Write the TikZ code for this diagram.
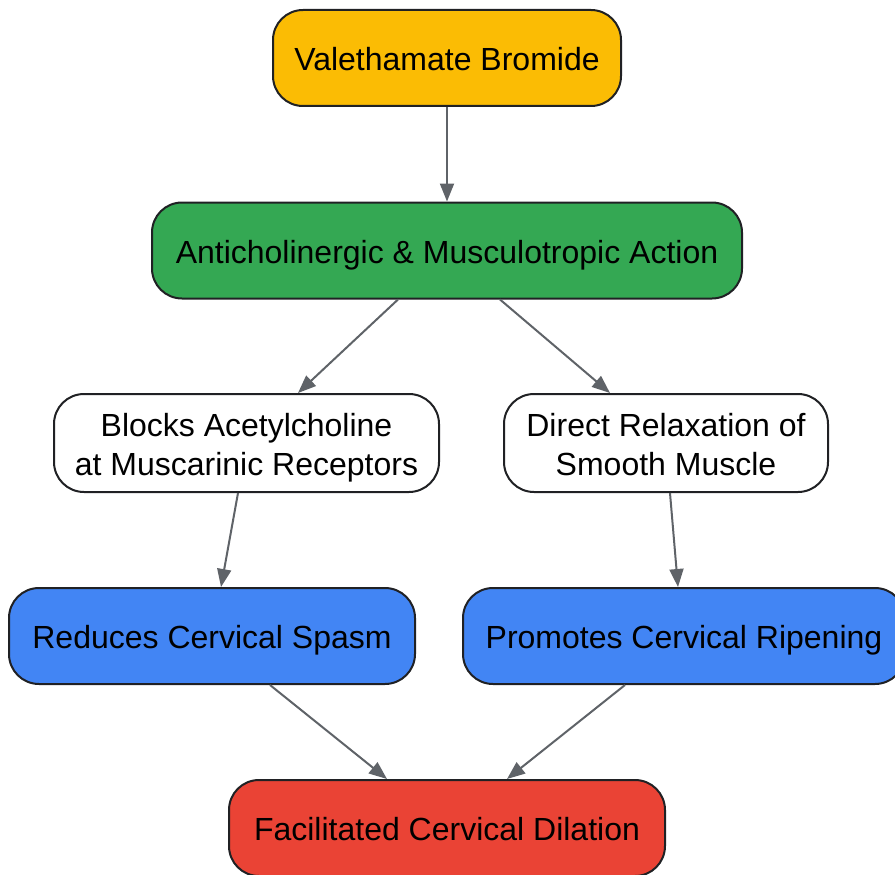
\documentclass[tikz,border=0pt]{standalone}
\usepackage{fontspec}
\setmainfont{Liberation Sans}
\usetikzlibrary{arrows.meta}
\definecolor{cyellow}{HTML}{FBBC04}
\definecolor{cgreen}{HTML}{34A853}
\definecolor{cblue}{HTML}{4285F4}
\definecolor{cred}{HTML}{EA4335}
\definecolor{cborder}{HTML}{202124}
\definecolor{carrow}{HTML}{5F6368}
\newcommand{\mystrut}{\rule[-7pt]{0pt}{39pt}}
\tikzset{
  box/.style={draw=cborder, line width=2pt, rounded corners=30pt, inner sep=0pt,
    align=center, font=\fontsize{32}{39}\selectfont, text=black},
  oneline/.style={box, execute at begin node=\mystrut, execute at end node=\mystrut},
  twoline/.style={box},
  conn/.style={draw=carrow, line width=2pt, -{Triangle[length=18pt,width=14pt]}},
}
\begin{document}
\begin{tikzpicture}[x=1pt,y=1pt]
\useasboundingbox (0,0) rectangle (895,-875);
\begin{scope}
\clip (0,0) rectangle (895,-875);
\node[oneline, fill=cyellow, minimum width=348pt, minimum height=96pt] (V) at (447,-58) {Valethamate Bromide};
\node[oneline, fill=cgreen, minimum width=590pt, minimum height=96pt] (A) at (447,-250.5) {Anticholinergic \& Musculotropic Action};
\node[twoline, fill=white, minimum width=385pt, minimum height=98pt] (B) at (246.5,-443) {\mystrut Blocks Acetylcholine\\at Muscarinic Receptors\mystrut};
\node[twoline, fill=white, minimum width=324pt, minimum height=98pt] (D) at (666,-443) {\mystrut Direct Relaxation of\\Smooth Muscle\mystrut};
\node[oneline, fill=cblue, minimum width=406pt, minimum height=96pt] (R) at (212,-636) {Reduces Cervical Spasm};
\node[oneline, fill=cblue, minimum width=442pt, minimum height=96pt] (P) at (684,-636) {Promotes Cervical Ripening};
\node[oneline, fill=cred, minimum width=436pt, minimum height=96pt] (F) at (447,-828) {Facilitated Cervical Dilation};
\end{scope}
\draw[conn] (V.south) -- (A.north);
\draw[conn] ([xshift=-49pt]A.south) -- ([xshift=51.5pt]B.north);
\draw[conn] ([xshift=53pt]A.south) -- ([xshift=-56pt]D.north);
\draw[conn] ([xshift=-8.5pt]B.south) -- ([xshift=9pt]R.north);
\draw[conn] ([xshift=4pt]D.south) -- ([xshift=-6pt]P.north);
\draw[conn] ([xshift=58pt]R.south) -- ([xshift=-60pt]F.north);
\draw[conn] ([xshift=-59pt]P.south) -- ([xshift=60pt]F.north);
\end{tikzpicture}
\end{document}
